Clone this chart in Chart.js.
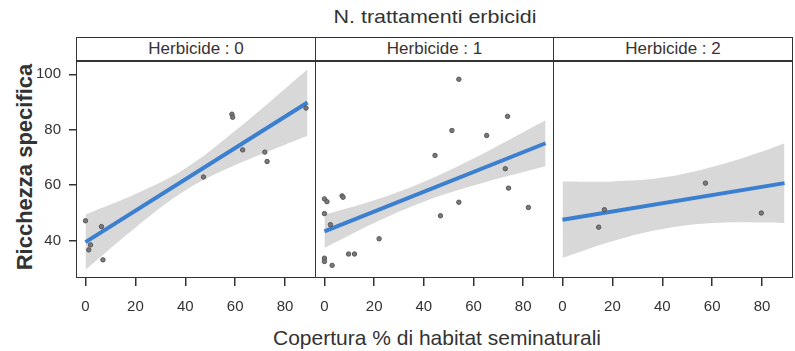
<!DOCTYPE html>
<html>
<head>
<meta charset="utf-8">
<script src="https://cdn.jsdelivr.net/npm/chart.js@4.4.1/dist/chart.umd.min.js"></script>
<style>
    body { margin: 0; background: #fff; }
    #wrap { position: relative; width: 795px; height: 351px; overflow: hidden; font-family: "Liberation Sans", Arial, sans-serif; color: #333; }
    canvas { position: absolute; }
    .box { position: absolute; box-sizing: border-box; border: 1.5px solid #333; pointer-events: none; }
    .strip { text-align: center; font-size: 17px; line-height: 21px; color: #3a3232; background: #fff; }
    .txt { position: absolute; white-space: nowrap; }
</style>
</head>
<body>
<div id="wrap">
    <div class="txt" style="left:435px;top:6px;font-size:19px;transform:translateX(-50%) scaleX(1.13);">N. trattamenti erbicidi</div>
    <div class="txt" style="left:25px;top:167px;font-size:22px;font-weight:bold;transform:translate(-50%,-50%) rotate(-90deg);">Ricchezza specifica</div>
    <div class="txt" style="left:437px;top:326px;font-size:21px;transform:translateX(-50%);">Copertura % di habitat seminaturali</div>
</div>
<script>
// facet labels and axis ticks
const panelLabels = ['Herbicide : 0', 'Herbicide : 1', 'Herbicide : 2'];
const xTicks = [0, 20, 40, 60, 80];
const yTicks = [40, 60, 80, 100];

// observed points per herbicide level
const h0X = [0, 1.3, 2, 6.4, 7, 47.3, 58.7, 59, 63, 71.9, 72.8, 88.4];
const h0Y = [47.1, 36.6, 38.4, 45, 33, 62.9, 85.6, 84.5, 72.7, 71.9, 68.5, 87.8];
const h1X = [0, 1, 0, 2.4, 0, 0, 3.1, 7.1, 7.5, 9.7, 12.1, 22, 44.5, 46.7, 51.3, 54.1, 54.1, 65.3, 72.8, 73.7, 74.1, 82.1];
const h1Y = [55, 54, 49.7, 45.7, 33.6, 32.4, 31, 56.1, 55.6, 35.1, 35.1, 40.6, 70.7, 48.9, 79.7, 98.2, 53.8, 77.9, 65.9, 84.8, 58.9, 51.9];
const h2X = [14.5, 16.8, 57.3, 79.7];
const h2Y = [44.8, 51.1, 60.7, 49.9];

// fitted lines
const fitX = [0, 89];
const fit0 = [39.4, 89.8];
const fit1 = [43.3, 75.1];
const fit2 = [47.5, 60.7];

// confidence bands
const bandX = [0, 20, 40, 60, 80, 89];
const band0Hi = [49.4, 56.8, 66.0, 79.6, 94.8, 101.8];
const band0Lo = [29.4, 44.6, 58.0, 67.2, 74.6, 77.8];
const band1Hi = [49.3, 54.5, 61.2, 69.6, 79.1, 83.4];
const band1Lo = [37.3, 46.3, 54.0, 59.8, 64.7, 66.8];
const band2Hi = [61.3, 61.3, 62.7, 66.5, 72.1, 75.1];
const band2Lo = [33.7, 39.7, 44.1, 46.3, 46.5, 46.3];

const zip = (xs, ys) => xs.map((x, i) => ({ x, y: ys[i] }));

const panels = [
    { pts: [h0X, h0Y], fit: fit0, hi: band0Hi, lo: band0Lo, left: 0, width: 315, plotLeft: 77, showY: true },
    { pts: [h1X, h1Y], fit: fit1, hi: band1Hi, lo: band1Lo, left: 316, width: 237, plotLeft: 316, showY: false },
    { pts: [h2X, h2Y], fit: fit2, hi: band2Hi, lo: band2Lo, left: 554, width: 238, plotLeft: 554, showY: false }
];

const wrap = document.getElementById('wrap');
const tickFont = { family: '"Liberation Sans", Arial, sans-serif', size: 15 };

panels.forEach((p, i) => {
    const canvas = document.createElement('canvas');
    canvas.width = p.width;
    canvas.height = 290;
    canvas.style.left = p.left + 'px';
    canvas.style.top = '61px';
    wrap.appendChild(canvas);

    const plotW = p.left + p.width - p.plotLeft;
    const strip = document.createElement('div');
    strip.className = 'box strip';
    strip.style.cssText = `left:${p.plotLeft - 1}px;top:37px;width:${plotW + 2}px;height:25px;`;
    strip.textContent = panelLabels[i];
    wrap.appendChild(strip);

    const frame = document.createElement('div');
    frame.className = 'box';
    frame.style.cssText = `left:${p.plotLeft - 1}px;top:60px;width:${plotW + 2}px;height:218px;z-index:2;`;
    wrap.appendChild(frame);

    new Chart(canvas, {
        type: 'line',
        data: {
            datasets: [
                {
                    data: zip(p.pts[0], p.pts[1]),
                    showLine: false,
                    pointRadius: 2.2,
                    backgroundColor: '#7a7a7a',
                    borderColor: '#555',
                    borderWidth: 1
                },
                {
                    data: zip(fitX, p.fit),
                    borderColor: '#3b7fd0',
                    borderWidth: 4,
                    pointRadius: 0,
                    fill: false
                },
                {
                    data: zip(bandX, p.hi),
                    borderWidth: 0,
                    pointRadius: 0,
                    backgroundColor: '#d8d8d8',
                    fill: '+1',
                    tension: 0.4
                },
                {
                    data: zip(bandX, p.lo),
                    borderWidth: 0,
                    pointRadius: 0,
                    fill: false,
                    tension: 0.4
                }
            ]
        },
        options: {
            responsive: false,
            animation: false,
            layout: { padding: 0, autoPadding: false },
            scales: {
                x: {
                    type: 'linear',
                    min: -3.4,
                    max: 92,
                    afterFit: s => { s.height = 74; s.paddingLeft = 0; s.paddingRight = 0; },
                    afterBuildTicks: s => { s.ticks = xTicks.map(v => ({ value: v })); },
                    border: { display: false },
                    grid: { drawOnChartArea: false, tickLength: 9, color: '#333', lineWidth: 1.5 },
                    ticks: { color: '#333', font: tickFont, padding: 12, maxRotation: 0 }
                },
                y: {
                    min: 26.8,
                    max: 104.8,
                    display: p.showY,
                    afterFit: s => { s.width = p.showY ? 77 : 0; s.paddingTop = 0; s.paddingBottom = 0; },
                    afterBuildTicks: s => { s.ticks = yTicks.map(v => ({ value: v })); },
                    border: { display: false },
                    grid: { drawOnChartArea: false, tickLength: 8, color: '#333', lineWidth: 1.5 },
                    ticks: { color: '#333', font: tickFont, padding: 8 }
                }
            },
            plugins: {
                legend: { display: false },
                tooltip: { enabled: false }
            }
        }
    });
});
</script>
</body>
</html>
